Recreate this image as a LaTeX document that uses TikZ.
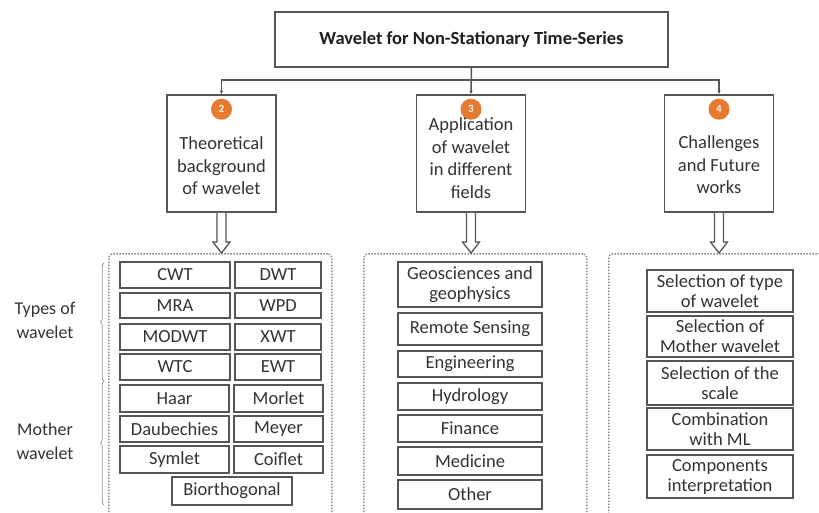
\documentclass[tikz,border=0pt]{standalone}
\usepackage{fontspec}
\setmainfont{Carlito}
\usetikzlibrary{calc,arrows.meta,decorations.pathreplacing}
\definecolor{ink}{HTML}{333333}
\definecolor{edge}{HTML}{555555}
\definecolor{dotc}{HTML}{8C8C8C}
\definecolor{badgeorange}{HTML}{E57A30}

% hollow block arrow pointing down from #1 to #2 (same x)
\newcommand\hollowdown[2]{%
  \draw[draw=edge, line width=1.3pt, fill=white, line join=miter]
    ($(#1)+(-4.5,0)$) -- ($(#2)+(-4.5,-11)$) -- ($(#2)+(-8.5,-11)$) -- (#2)
    -- ($(#2)+(8.5,-11)$) -- ($(#2)+(4.5,-11)$) -- ($(#1)+(4.5,0)$);}

\begin{document}
\begin{tikzpicture}[x=1pt,y=-1pt,
  every node/.style={text=ink, font=\fontsize{18.5}{22.5}\selectfont},
  topbox/.style={draw=edge, line width=1.6pt, fill=white, inner sep=0pt,
    minimum width=393pt, minimum height=55pt,
    font=\fontsize{18.5}{22}\selectfont\bfseries, text=black!88},
  heading/.style={draw=edge, line width=1.6pt, fill=white, inner sep=0pt,
    minimum width=109pt, minimum height=117pt},
  headtext/.style={align=center, inner sep=0pt},
  item/.style={draw=edge, line width=1.6pt, fill=white, inner sep=0pt,
    align=center, font=\fontsize{18.5}{20}\selectfont},
  panel/.style={draw=dotc, line width=1.5pt, dash pattern=on 1.5pt off 1.5pt,
    rounded corners=4pt, inner sep=0pt, anchor=north west},
  badge/.style={circle, fill=badgeorange, minimum size=21pt, inner sep=0pt,
    text=white!92!orange, font=\fontsize{11}{11}\selectfont\bfseries},
  conn/.style={draw=edge, line width=1.5pt, -{Latex[length=3.5pt,width=3.5pt]}},
  sidelabel/.style={align=center, inner sep=0pt, font=\fontsize{18}{24}\selectfont},
  bracket/.style={draw=dotc, line width=0.7pt, decorate,
    decoration={brace, amplitude=3.5pt}}
]
\clip (0,0) rectangle (819,512);

% title and the three topic boxes
\node[topbox] (title) at (471.5,39.5) {Wavelet for Non-Stationary Time-Series};

\node[heading] (b2) at (221.5,153.5) {};
\node[heading] (b3) at (471,153.5) {};
\node[heading] (b4) at (719,153.5) {};

\coordinate (hub) at (471,80);
\draw[conn] (title.south) -- (b3.north);
\draw[conn] (hub) -| (b2.north);
\draw[conn] (hub) -| (b4.north);

\node[badge] (n2) at ($(b2.north)+(0,15)$) {2};
\node[badge] (n3) at ($(b3.north)+(0,15)$) {3};
\node[badge] (n4) at ($(b4.north)+(0,15)$) {4};

\node[headtext] (t2) at (221.5,166) {Theoretical\\background\\of wavelet};
\node[headtext] (t3) at (471,158) {Application\\of wavelet\\in different\\fields};
\node[headtext] (t4) at (719,165) {Challenges\\and Future\\works};

% dotted panels
\node[panel, minimum width=223pt, minimum height=280pt] (pl) at (108,253) {};
\node[panel, minimum width=223pt, minimum height=280pt] (pm) at (363,253) {};
\node[panel, minimum width=230pt, minimum height=280pt] (pr) at (608,253) {};

\coordinate (a2) at (b2.south |- pl.north);
\coordinate (a3) at (b3.south |- pm.north);
\coordinate (a4) at (b4.south |- pr.north);
\hollowdown{b2.south}{a2}
\hollowdown{b3.south}{a3}
\hollowdown{b4.south}{a4}

% wavelet types and mother wavelets
\node[item, minimum width=110pt, minimum height=26pt] (cwt) at (175,275) {CWT};
\node[item, minimum width=86pt, minimum height=26pt] (dwt) at (278,275) {DWT};
\node[item, minimum width=110pt, minimum height=25pt] (mra) at (175,305.5) {MRA};
\node[item, minimum width=86pt, minimum height=25pt] (wpd) at (278,305.5) {WPD};
\node[item, minimum width=110pt, minimum height=26pt] (modwt) at (175,337) {MODWT};
\node[item, minimum width=86pt, minimum height=26pt] (xwt) at (278,337) {XWT};
\node[item, minimum width=110pt, minimum height=26pt] (wtc) at (175,367) {WTC};
\node[item, minimum width=86pt, minimum height=26pt] (ewt) at (278,367) {EWT};
\node[item, minimum width=109pt, minimum height=27pt] (haar) at (174.5,398.5) {Haar};
\node[item, minimum width=89pt, minimum height=27pt] (morlet) at (278.5,398.5) {Morlet};
\node[item, minimum width=109pt, minimum height=26pt] (daub) at (174.5,429) {Daubechies};
\node[item, minimum width=89pt, minimum height=26pt] (meyer) at (278.5,429) {Meyer};
\node[item, minimum width=109pt, minimum height=27pt] (sym) at (174.5,459.5) {Symlet};
\node[item, minimum width=89pt, minimum height=27pt] (coif) at (278.5,459.5) {Coiflet};
\node[item, minimum width=120pt, minimum height=28pt] (bior) at (232,491) {Biorthogonal};

\node[sidelabel] (types) at (45,320) {Types of\\wavelet};
\node[sidelabel] (mother) at (45,441) {Mother\\wavelet};
\draw[bracket] (104,381) -- (104,263);
\draw[bracket] (104,505) -- (104,381);

% application fields
\node[item, minimum width=144pt, minimum height=45pt] (geo) at (470,284.5) {Geosciences and\\geophysics};
\node[item, minimum width=144pt, minimum height=32pt] (rs) at (470,329) {Remote Sensing};
\node[item, minimum width=144pt, minimum height=26pt] (eng) at (470,364) {Engineering};
\node[item, minimum width=144pt, minimum height=27pt] (hyd) at (470,396.5) {Hydrology};
\node[item, minimum width=144pt, minimum height=27pt] (fin) at (470,428.5) {Finance};
\node[item, minimum width=144pt, minimum height=28pt] (med) at (470,461) {Medicine};
\node[item, minimum width=144pt, minimum height=29pt] (oth) at (470,494.5) {Other};

% challenges
\node[item, minimum width=146pt, minimum height=42pt] (c1) at (720,291) {Selection of type\\of wavelet};
\node[item, minimum width=146pt, minimum height=41pt] (c2) at (720,336.5) {Selection of\\Mother wavelet};
\node[item, minimum width=146pt, minimum height=44pt] (c3) at (720,383) {Selection of the\\scale};
\node[item, minimum width=146pt, minimum height=42pt] (c4) at (720,429) {Combination\\with ML};
\node[item, minimum width=146pt, minimum height=43pt] (c5) at (720,476.5) {Components\\interpretation};
\end{tikzpicture}
\end{document}
